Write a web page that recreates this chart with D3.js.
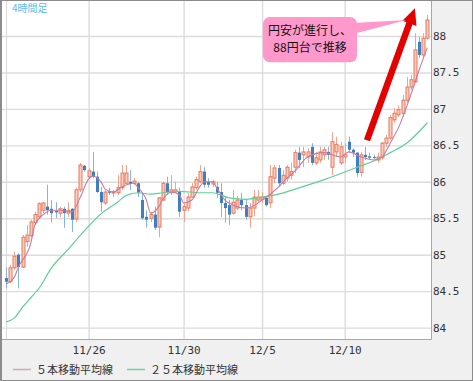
<!DOCTYPE html>
<html>
<head>
<meta charset="utf-8">
<script src="https://cdn.jsdelivr.net/npm/d3@7"></script>
<style>
  html, body { margin: 0; padding: 0; background: #fff; }
  svg { display: block; }
</style>
</head>
<body>
<svg id="chart" width="473" height="381"></svg>
<script>
// 4-hour USD/JPY candles
const opens = [
  84.68, 84.63, 84.82, 85.00, 84.83, 85.18, 85.26, 85.44, 85.52, 85.61,
  85.66, 85.63, 85.60, 85.57, 85.63, 85.57, 85.63, 85.49, 85.89, 86.22,
  86.07, 86.14, 86.07, 85.86, 85.71, 85.87, 85.85, 85.85, 85.92, 85.98,
  86.00, 85.98, 85.98, 85.75, 85.52, 85.50, 85.55, 85.38, 85.75, 85.98,
  85.85, 85.86, 85.86, 85.61, 85.64, 85.79, 85.92, 86.00, 86.14, 86.00,
  85.97, 85.93, 85.86, 85.71, 85.68, 85.57, 85.64, 85.75, 85.68, 85.52,
  85.64, 85.75, 85.76, 85.78, 85.71, 86.05, 86.19, 85.98, 86.05, 86.09,
  86.20, 86.40, 86.37, 86.34, 86.48, 86.26, 86.30, 86.37, 86.41, 86.20,
  86.41, 86.26, 86.34, 86.55, 86.44, 86.40, 86.13, 86.37, 86.35, 86.34,
  86.30, 86.33, 86.53, 86.60, 86.85, 86.92, 86.94, 87.12, 87.30, 87.37,
  87.92, 87.74, 87.97
];
const highs = [
  84.83, 84.86, 85.04, 85.02, 85.27, 85.41, 85.48, 85.59, 85.72, 85.72,
  85.96, 85.75, 85.72, 85.66, 85.66, 85.72, 85.64, 85.92, 86.26, 86.23,
  86.19, 86.41, 86.14, 85.93, 85.89, 85.92, 85.89, 86.09, 86.23, 86.23,
  86.16, 86.05, 86.00, 85.85, 85.61, 85.59, 85.66, 85.79, 86.00, 86.07,
  86.09, 86.00, 85.92, 85.72, 85.85, 85.98, 86.07, 86.23, 86.20, 86.05,
  86.03, 86.00, 85.98, 85.79, 85.75, 85.89, 85.81, 85.85, 85.75, 85.71,
  85.89, 85.89, 85.86, 85.79, 86.23, 86.23, 86.23, 86.16, 86.23, 86.26,
  86.44, 86.48, 86.48, 86.46, 86.53, 86.41, 86.48, 86.48, 86.48, 86.68,
  86.62, 86.55, 86.53, 86.62, 86.46, 86.41, 86.41, 86.48, 86.40, 86.37,
  86.40, 86.55, 86.64, 86.92, 87.01, 87.05, 87.19, 87.44, 87.47, 88.04,
  87.99, 88.04, 88.29
];
const lows = [
  84.54, 84.61, 84.79, 84.54, 84.82, 85.11, 85.24, 85.41, 85.50, 85.57,
  85.55, 85.44, 85.50, 85.52, 85.37, 85.52, 85.31, 85.45, 85.86, 86.14,
  86.05, 86.05, 85.85, 85.59, 85.68, 85.82, 85.79, 85.82, 85.89, 85.96,
  85.89, 85.96, 85.79, 85.48, 85.37, 85.45, 85.34, 85.24, 85.74, 85.82,
  85.82, 85.85, 85.52, 85.45, 85.60, 85.78, 85.89, 85.98, 85.92, 85.92,
  85.93, 85.78, 85.52, 85.44, 85.41, 85.55, 85.61, 85.61, 85.48, 85.37,
  85.53, 85.71, 85.71, 85.66, 85.64, 85.98, 85.93, 85.96, 86.00, 86.03,
  86.12, 86.19, 86.20, 86.26, 86.23, 86.23, 86.26, 86.30, 86.30, 86.09,
  86.34, 86.23, 86.26, 86.40, 86.34, 86.07, 86.07, 86.30, 86.30, 86.30,
  86.26, 86.30, 86.48, 86.57, 86.81, 86.89, 86.89, 87.08, 87.26, 87.36,
  87.70, 87.71, 87.95
];
const closes = [
  84.63, 84.82, 84.98, 84.83, 85.24, 85.27, 85.45, 85.55, 85.70, 85.71,
  85.61, 85.57, 85.58, 85.63, 85.57, 85.61, 85.48, 85.89, 86.23, 86.16,
  86.15, 86.07, 85.86, 85.72, 85.86, 85.85, 85.86, 85.92, 86.12, 86.12,
  85.97, 86.01, 85.85, 85.50, 85.48, 85.55, 85.37, 85.78, 85.98, 85.86,
  85.89, 85.89, 85.59, 85.66, 85.79, 85.93, 86.03, 86.14, 85.96, 85.96,
  86.00, 85.85, 85.71, 85.64, 85.55, 85.72, 85.75, 85.68, 85.52, 85.64,
  85.79, 85.79, 85.79, 85.68, 86.07, 86.19, 85.98, 86.09, 86.20, 86.14,
  86.40, 86.30, 86.41, 86.41, 86.26, 86.33, 86.41, 86.44, 86.37, 86.55,
  86.51, 86.48, 86.37, 86.44, 86.40, 86.12, 86.37, 86.34, 86.33, 86.33,
  86.34, 86.53, 86.60, 86.88, 86.94, 86.99, 87.12, 87.30, 87.40, 87.81,
  87.74, 87.97, 88.22
];

// moving averages, read at these bar positions
const ma5Idx = [0, 2, 3, 6, 7, 9, 11, 13, 16, 18, 20, 21, 23, 24, 26, 28, 31, 32, 34, 35,
  37, 38, 40, 42, 43, 45, 47, 48, 50, 51, 53, 55, 58, 60, 62, 64, 66, 68, 70, 73,
  77, 81, 83, 86, 89, 91, 93, 95, 98, 100, 102];
const ma5Val = [84.60, 84.69, 84.83, 85.16, 85.41, 85.55, 85.61, 85.61, 85.59, 85.79,
  86.04, 86.08, 86.00, 85.90, 85.86, 85.93, 85.98, 85.92, 85.75, 85.57,
  85.66, 85.76, 85.86, 85.82, 85.71, 85.75, 85.94, 86.00, 86.00, 85.92,
  85.75, 85.68, 85.64, 85.67, 85.75, 85.83, 85.93, 86.05, 86.15, 86.34,
  86.40, 86.34, 86.41, 86.34, 86.30, 86.34, 86.53, 86.74, 87.19, 87.53, 87.84];

const ma25Idx = [0, 2, 4, 6, 8, 11, 15, 19, 23, 27, 29, 32, 35, 38, 42, 47, 50, 54, 58,
  62, 66, 70, 77, 85, 90, 93, 97, 102];
const ma25Val = [84.08, 84.13, 84.28, 84.41, 84.54, 84.82, 85.07, 85.33, 85.56,
  85.72, 85.81, 85.85, 85.83, 85.85, 85.87, 85.85, 85.85, 85.78, 85.76,
  85.79, 85.83, 85.90, 86.03, 86.20, 86.31, 86.40, 86.53, 86.81];

const yTicks = [84, 84.5, 85, 85.5, 86, 86.5, 87, 87.5, 88];
const xTickIdx = [20, 43, 62, 82];
const xTickLabels = ['11/26', '11/30', '12/5', '12/10'];

const W = 473, H = 381;
const plot = { left: 2, right: 431, top: 1, bottom: 339 };

const x = d3.scaleLinear().domain([0, 102]).range([6, 427.3]);
const y = d3.scaleLinear().domain([83.844, 88.48]).range([plot.bottom, plot.top]);

const svg = d3.select('#chart');

// background and frame
svg.append('rect').attr('width', W).attr('height', H).attr('fill', '#f0f0f0');
svg.append('rect')
  .attr('x', plot.left).attr('y', plot.top)
  .attr('width', plot.right - plot.left).attr('height', plot.bottom - plot.top)
  .attr('fill', '#fff');

// grid
const yGrid = svg.append('g')
  .attr('transform', `translate(${plot.left},0)`)
  .call(d3.axisRight(y).tickValues(yTicks).tickSize(plot.right - plot.left).tickFormat(''));
yGrid.select('.domain').remove();
yGrid.selectAll('line').attr('stroke', '#dcdcdc').attr('stroke-width', 1.4);

const xGrid = svg.append('g')
  .attr('transform', `translate(0,${plot.top})`)
  .call(d3.axisBottom(x).tickValues(xTickIdx).tickSize(plot.bottom - plot.top).tickFormat(''));
xGrid.select('.domain').remove();
xGrid.selectAll('line').attr('stroke', '#dcdcdc').attr('stroke-width', 1.4);

svg.append('line')
  .attr('x1', 6.5).attr('x2', 6.5).attr('y1', plot.top).attr('y2', plot.bottom)
  .attr('stroke', '#dcdcdc').attr('stroke-width', 1.2);

// title
svg.append('text')
  .attr('x', 12).attr('y', 12)
  .attr('font-family', '"Noto Sans CJK JP", sans-serif')
  .attr('font-size', 10)
  .attr('fill', '#5bbcec')
  .text('4時間足');

// candles
const bars = d3.range(opens.length).map(i => ({
  i, o: opens[i], h: highs[i], l: lows[i], c: closes[i], up: closes[i] >= opens[i]
}));

const candle = svg.append('g').selectAll('g')
  .data(bars)
  .enter()
    .append('g');

candle.append('line')
  .attr('x1', d => Math.round(x(d.i)) + 0.5)
  .attr('x2', d => Math.round(x(d.i)) + 0.5)
  .attr('y1', d => y(d.h))
  .attr('y2', d => y(d.l))
  .attr('stroke', d => d.up ? '#f2a38e' : '#84b4e0')
  .attr('stroke-width', 1);

candle.append('rect')
  .attr('x', d => Math.round(x(d.i)) - 1)
  .attr('y', d => y(Math.max(d.o, d.c)))
  .attr('width', 3)
  .attr('height', d => Math.max(1, Math.abs(y(d.o) - y(d.c))))
  .attr('fill', d => d.up ? '#f9cdbf' : '#3d7fc0')
  .attr('stroke', d => d.up ? '#e9795a' : 'none')
  .attr('stroke-width', 1);

// moving averages
const maLine = d3.line()
  .x(d => x(d[0]))
  .y(d => y(d[1]))
  .curve(d3.curveMonotoneX);

svg.append('path')
  .datum(ma25Idx.map((k, j) => [k, ma25Val[j]]))
  .attr('d', maLine)
  .attr('fill', 'none')
  .attr('stroke', '#5fcf98')
  .attr('stroke-width', 1.2);

svg.append('path')
  .datum(ma5Idx.map((k, j) => [k, ma5Val[j]]))
  .attr('d', maLine)
  .attr('fill', 'none')
  .attr('stroke', '#c97aa3')
  .attr('stroke-width', 1.1);

// plot frame (right and bottom)
svg.append('path')
  .attr('d', `M${plot.right + 0.5},${plot.top}V${plot.bottom + 0.5}H${plot.left}`)
  .attr('fill', 'none')
  .attr('stroke', '#a8a8a8');

// axes
const yAxis = svg.append('g')
  .attr('transform', `translate(${plot.right},0)`)
  .call(d3.axisRight(y).tickValues(yTicks).tickSize(0).tickPadding(2)
    .tickFormat(d => d % 1 ? d.toFixed(1) : String(d)));
yAxis.select('.domain').remove();
yAxis.selectAll('text')
  .attr('font-family', '"DejaVu Sans Mono", monospace')
  .attr('font-size', 11)
  .attr('fill', '#333');

const xAxis = svg.append('g')
  .attr('transform', `translate(0,${plot.bottom})`)
  .call(d3.axisBottom(x).tickValues(xTickIdx).tickSize(0).tickPadding(7)
    .tickFormat((d, k) => xTickLabels[k]));
xAxis.select('.domain').remove();
xAxis.selectAll('text')
  .attr('font-family', '"DejaVu Sans Mono", monospace')
  .attr('font-size', 11)
  .attr('fill', '#333');

// legend
const legend = [
  { label: '５本移動平均線', color: '#d9a3bd', x: 13 },
  { label: '２５本移動平均線', color: '#6fd3a2', x: 127 }
];
const lg = svg.append('g').selectAll('g')
  .data(legend)
  .enter()
    .append('g')
    .attr('transform', d => `translate(${d.x},369)`);
lg.append('line')
  .attr('x1', 0).attr('x2', 18).attr('y1', 0.5).attr('y2', 0.5)
  .attr('stroke', d => d.color).attr('stroke-width', 1.5);
lg.append('text')
  .attr('x', 23).attr('y', 4.5)
  .attr('font-family', '"Noto Sans CJK JP", sans-serif')
  .attr('font-size', 11)
  .attr('fill', '#333')
  .text(d => d.label);

// annotation: red arrow
const arrowFrom = [87.4, 86.57];
const arrowTo = [99.0, 88.38];
const ax0 = x(arrowFrom[0]), ay0 = y(arrowFrom[1]);
const ax1 = x(arrowTo[0]), ay1 = y(arrowTo[1]);
const len = Math.hypot(ax1 - ax0, ay1 - ay0);
const ux = (ax1 - ax0) / len, uy = (ay1 - ay0) / len;
const headLen = 16, headHalf = 7.5;
const bx = ax1 - ux * headLen, by = ay1 - uy * headLen;
svg.append('line')
  .attr('x1', ax0).attr('y1', ay0).attr('x2', bx + ux * 2).attr('y2', by + uy * 2)
  .attr('stroke', '#e40000').attr('stroke-width', 6.5);
svg.append('path')
  .attr('d', `M${ax1},${ay1}L${bx - uy * headHalf},${by + ux * headHalf}L${bx + uy * headHalf},${by - ux * headHalf}Z`)
  .attr('fill', '#e40000');

// annotation: callout
const boxIdx = [62.2, 85.0];
const boxPrice = [88.26, 87.64];
const bx0 = x(boxIdx[0]), bx1 = x(boxIdx[1]);
const by0 = y(boxPrice[0]), by1 = y(boxPrice[1]);
const tipPt = [97.0, 88.22];
svg.append('path')
  .attr('d', `M${bx1 - 4},${by0 + 6}L${x(tipPt[0])},${y(tipPt[1])}L${bx1 - 4},${by0 + 17}Z`)
  .attr('fill', '#ff99cc');
svg.append('rect')
  .attr('x', bx0).attr('y', by0)
  .attr('width', bx1 - bx0).attr('height', by1 - by0)
  .attr('rx', 7)
  .attr('fill', '#ff99cc');
svg.append('text')
  .attr('x', (bx0 + bx1) / 2).attr('y', by0)
  .attr('text-anchor', 'middle')
  .attr('font-family', '"Noto Sans CJK JP", sans-serif')
  .attr('font-size', 12)
  .attr('fill', '#111')
  .selectAll('tspan')
  .data(['円安が進行し、', '88円台で推移'])
  .enter()
    .append('tspan')
    .attr('x', (bx0 + bx1) / 2)
    .attr('dy', (d, k) => k === 0 ? 18 : 17)
    .text(d => d);

// outer border
svg.append('rect')
  .attr('x', 0.5).attr('y', 0.5).attr('width', W - 1).attr('height', H - 1)
  .attr('fill', 'none').attr('stroke', '#8c8c8c');
svg.append('line')
  .attr('x1', 1).attr('x2', 1).attr('y1', 0).attr('y2', H)
  .attr('stroke', '#8c8c8c').attr('stroke-width', 2);
</script>
</body>
</html>
